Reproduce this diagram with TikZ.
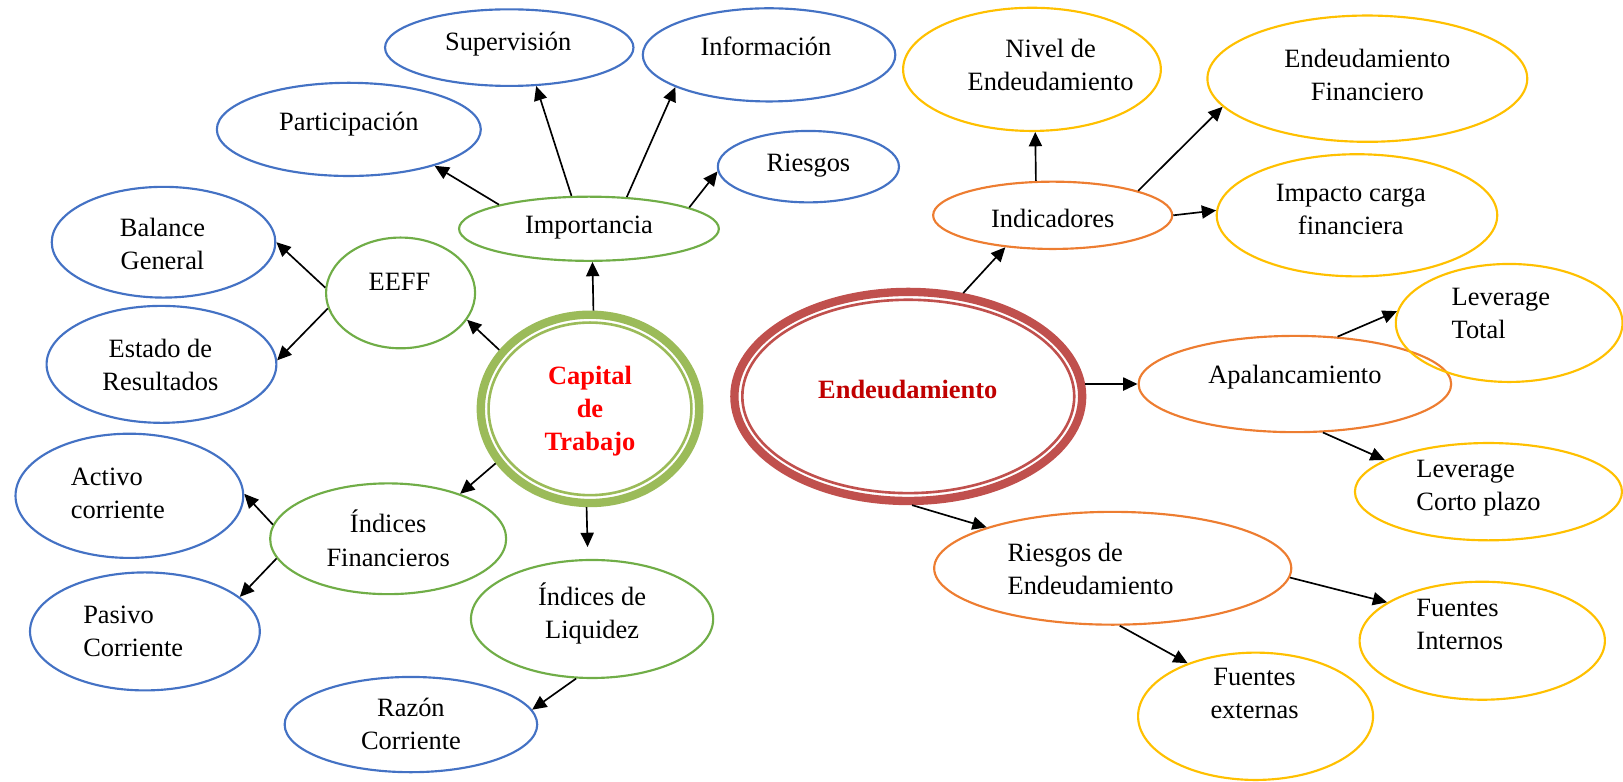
\documentclass[tikz,border=0pt]{standalone}
\usepackage{fontspec}
\setmainfont{Liberation Serif}
\usetikzlibrary{arrows.meta,shapes.geometric}
\definecolor{azul}{HTML}{4472C4}
\definecolor{verde}{HTML}{70AD47}
\definecolor{verdecap}{HTML}{9BBB59}
\definecolor{naranja}{HTML}{ED7D31}
\definecolor{oro}{HTML}{FFC000}
\definecolor{rojoend}{HTML}{C0504D}
\definecolor{rojotxt}{HTML}{C00000}
\begin{document}
\begin{tikzpicture}[x=0.4347pt,y=-0.4347pt,
	font=\fontsize{11.1}{13.9}\selectfont,
	bub/.style n args={3}{draw=#1, ellipse, line width=0.9pt, inner sep=0pt,
		minimum width=#2*0.4347pt, minimum height=#3*0.4347pt},
	ring/.style n args={3}{bub={#1}{#2}{#3}, line width=3.5pt},
	txt/.style={align=center, inner sep=0pt},
	txl/.style={align=left, inner sep=0pt, anchor=west},
	flecha/.style={-{Triangle[length=6pt,width=5.5pt]}, line width=0.7pt}]
	\useasboundingbox (0,0) rectangle (1568,755);
	% Capital de Trabajo
	\node[ring={verdecap}{211}{182}] (cap) at (570,395) {};
	\draw[verdecap, line width=1.1pt] (cap.center) ellipse [x radius=42.6pt, y radius=36.25pt];
	\node[txt, font=\fontsize{11.1}{13.9}\selectfont\bfseries, text=red] (capt) at (570,397) {Capital\\de\\Trabajo};
	\node[bub={verde}{251}{62}] (imp) at (569,221) {};
	\node[txt] (impt) at (569,220) {Importancia};
	\node[bub={verde}{144}{107}] (eeff) at (387,283) {};
	\node[txt] (eefft) at (386,272) {EEFF};
	\node[bub={verde}{228}{107}] (ifi) at (375,520.5) {};
	\node[txt] (ifit) at (375,520) {Índices\\Financieros};
	\node[bub={verde}{234}{114}] (liq) at (572,598) {};
	\node[txt] (liqt) at (572,593) {Índices de\\Liquidez};
	\node[bub={azul}{240}{74}] (sup) at (492,46) {};
	\node[txt] (supt) at (491,43) {Supervisión};
	\node[bub={azul}{244}{90}] (inf) at (743,53) {};
	\node[txt] (inft) at (740,45) {Información};
	\node[bub={azul}{255}{90}] (par) at (337,125) {};
	\node[txt] (part) at (337,120) {Participación};
	\node[bub={azul}{175}{69}] (rie) at (781,161) {};
	\node[txt] (riet) at (781,160) {Riesgos};
	\node[bub={azul}{216}{107}] (bal) at (158,234) {};
	\node[txt] (balt) at (157,236) {Balance\\General};
	\node[bub={azul}{222}{113}] (est) at (156,352) {};
	\node[txt] (estt) at (155,353) {Estado de\\Resultados};
	\node[bub={azul}{220}{120}] (act) at (125,479) {};
	\node[txl] (actt) at (68,477) {Activo\\corriente};
	\node[bub={azul}{222}{114}] (pas) at (140,610) {};
	\node[txl] (past) at (80,610) {Pasivo\\Corriente};
	\node[bub={azul}{244}{92}] (raz) at (397,700) {};
	\node[txt] (razt) at (397,699) {Razón\\Corriente};
	% Endeudamiento
	\node[ring={rojoend}{336}{202}] (end) at (877.5,383) {};
	\draw[rojoend, line width=1.1pt] (end.center) ellipse [x radius=69.7pt, y radius=40.6pt];
	\node[txt, font=\fontsize{11.1}{13.9}\selectfont\bfseries, text=rojotxt] (endt) at (877,376) {Endeudamiento};
	\node[bub={naranja}{231}{65}] (ind) at (1017,208) {};
	\node[txt] (indt) at (1017,211) {Indicadores};
	\node[bub={naranja}{302}{93}] (apa) at (1251,371) {};
	\node[txt] (apat) at (1251,364) {Apalancamiento};
	\node[bub={naranja}{345}{109}] (rde) at (1075,549) {};
	\node[txl] (rdet) at (973,550) {Riesgos de\\Endeudamiento};
	\node[bub={oro}{249}{119}] (niv) at (997,67) {};
	\node[txt] (nivt) at (1015,63) {Nivel de\\Endeudamiento};
	\node[bub={oro}{309}{122}] (efi) at (1321,76) {};
	\node[txt] (efit) at (1321,72) {Endeudamiento\\Financiero};
	\node[bub={oro}{271}{118}] (imc) at (1311,208) {};
	\node[txt] (imct) at (1305,202) {Impacto carga\\financiera};
	\node[bub={oro}{219}{114}] (lto) at (1458,312) {};
	\node[txl] (ltot) at (1402,303) {Leverage\\Total};
	\node[bub={oro}{258}{94}] (lco) at (1438,475) {};
	\node[txl] (lcot) at (1368,472) {Leverage\\Corto plazo};
	\node[bub={oro}{237}{114}] (fin) at (1432,619) {};
	\node[txl] (fint) at (1368,603) {Fuentes\\Internos};
	\node[bub={oro}{227}{123}] (fex) at (1213,692) {};
	\node[txt] (fext) at (1212,670) {Fuentes\\externas};
	% flechas
	\draw[flecha] (cap.88) -- (imp.276);
	\draw[flecha] (cap.147) -- (eeff.338);
	\draw[flecha] (imp.165) -- (par.337);
	\draw[flecha] (imp.118) -- (sup.305);
	\draw[flecha] (imp.40) -- (inf.199);
	\draw[flecha] (imp.12) -- (rie.183);
	\draw[flecha] (eeff.176) -- (bal.0);
	\draw[flecha] (eeff.192) -- (est.2);
	\draw[flecha] (cap.210) -- (ifi.32);
	\draw[flecha, shorten >=5pt] (cap.268) -- (liq.94);
	\draw[flecha] (ifi.173) -- (act.1);
	\draw[flecha] (ifi.190) -- (pas.20);
	\draw[flecha] (liq.255) -- (raz.7);
	\draw[flecha] (end.62) -- (ind.214);
	\draw[flecha] (end.4) -- (apa.west);
	\draw[flecha] (end.272) -- (rde.162);
	\draw[flecha] (ind.116) -- (niv.273);
	\draw[flecha] (ind.16) -- (efi.191);
	\draw[flecha] (ind.0) -- (imc.178);
	\draw[flecha] (apa.48) -- (lto.174);
	\draw[flecha] (apa.300) -- (lco.163);
	\draw[flecha] (rde.357) -- (fin.158);
	\draw[flecha] (rde.277) -- (fex.142);
\end{tikzpicture}
\end{document}
